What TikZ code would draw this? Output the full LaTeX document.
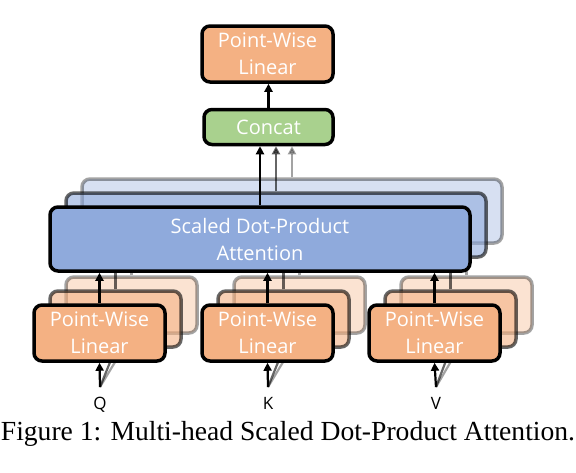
\documentclass[tikz,border=0pt]{standalone}
\usepackage{fontspec}
\setmainfont{Liberation Serif}
\newfontfamily\boxfont{Open Sans}
\usetikzlibrary{arrows.meta, positioning, calc}
\definecolor{pwlfill}{HTML}{F4B183}
\definecolor{catfill}{HTML}{A9D18E}
\definecolor{attfill}{HTML}{8FAADC}
\tikzset{
    block/.style={
        rectangle, rounded corners=8pt, draw=black, line width=3.5pt,
        text=white, align=center, inner sep=0pt,
        font=\boxfont\fontsize{20}{27}\selectfont
    },
    pwl/.style={
        block, fill=pwlfill, minimum width=131pt, minimum height=56pt
    },
    att/.style={
        block, fill=attfill, minimum width=420pt, minimum height=64pt
    },
    cat/.style={
        block, fill=catfill, minimum width=129pt, minimum height=35pt
    },
    arrow/.style={
        -{Triangle[length=8pt, width=8pt]}, line width=2.2pt, draw=black
    },
    inlabel/.style={
        font=\boxfont\fontsize{17}{20}\selectfont
    },
    midlayer/.style={opacity=0.6},
    backlayer/.style={opacity=0.36}
}

\begin{document}
\begin{tikzpicture}[x=1pt, y=-1pt]
    \useasboundingbox (0,0) rectangle (576,472);

    % output part
    \node[pwl] (out) at (267.5,54)  {Point-Wise\\Linear};
    \node[cat] (cat) at (268.5,127) {Concat};
    \draw[arrow] (cat.north) -- (cat.north |- out.south);

    % inputs
    \coordinate (qin) at (100,387);
    \coordinate (kin) at (268,387);
    \coordinate (vin) at (436,387);
    \node[inlabel, below=7pt of qin] (qlab) {Q};
    \node[inlabel, below=7pt of kin] (klab) {K};
    \node[inlabel, below=7pt of vin] (vlab) {V};

    % third head (back)
    \begin{scope}[shift={(32,-28)}, backlayer]
        \node[pwl] (q3) at (99.5,333)  {};
        \node[pwl] (k3) at (267.5,333) {};
        \node[pwl] (v3) at (434.5,333) {};
        \node[att] (att3) at (260,239) {};
        \draw[arrow] (qin) -- (q3.south);
        \draw[arrow] (kin) -- (k3.south);
        \draw[arrow] (vin) -- (v3.south);
        \draw[arrow] (q3.north) -- (q3.north |- att3.south);
        \draw[arrow] (k3.north) -- (k3.north |- att3.south);
        \draw[arrow] (v3.north) -- (v3.north |- att3.south);
        \draw[arrow] (att3.north) -- (att3.north |- cat.south);
    \end{scope}

    % second head (middle)
    \begin{scope}[shift={(16,-14)}, midlayer]
        \node[pwl] (q2) at (99.5,333)  {};
        \node[pwl] (k2) at (267.5,333) {};
        \node[pwl] (v2) at (434.5,333) {};
        \node[att] (att2) at (260,239) {};
        \draw[arrow] (qin) -- (q2.south);
        \draw[arrow] (kin) -- (k2.south);
        \draw[arrow] (vin) -- (v2.south);
        \draw[arrow] (q2.north) -- (q2.north |- att2.south);
        \draw[arrow] (k2.north) -- (k2.north |- att2.south);
        \draw[arrow] (v2.north) -- (v2.north |- att2.south);
        \draw[arrow] (att2.north) -- (att2.north |- cat.south);
    \end{scope}

    % first head (front)
    \node[pwl] (q1) at (99.5,333)  {Point-Wise\\Linear};
    \node[pwl] (k1) at (267.5,333) {Point-Wise\\Linear};
    \node[pwl] (v1) at (434.5,333) {Point-Wise\\Linear};
    \node[att] (att1) at (260,239) {Scaled Dot-Product\\Attention};
    \draw[arrow] (qin) -- (q1.south);
    \draw[arrow] (kin) -- (k1.south);
    \draw[arrow] (vin) -- (v1.south);
    \draw[arrow] (q1.north) -- (q1.north |- att1.south);
    \draw[arrow] (k1.north) -- (k1.north |- att1.south);
    \draw[arrow] (v1.north) -- (v1.north |- att1.south);
    \draw[arrow] (att1.north) -- (att1.north |- cat.south);

    \node[font=\fontsize{27.6}{31}\selectfont] (caption) at (288,434)
        {Figure 1: Multi-head Scaled Dot-Product Attention.};

\end{tikzpicture}
\end{document}
